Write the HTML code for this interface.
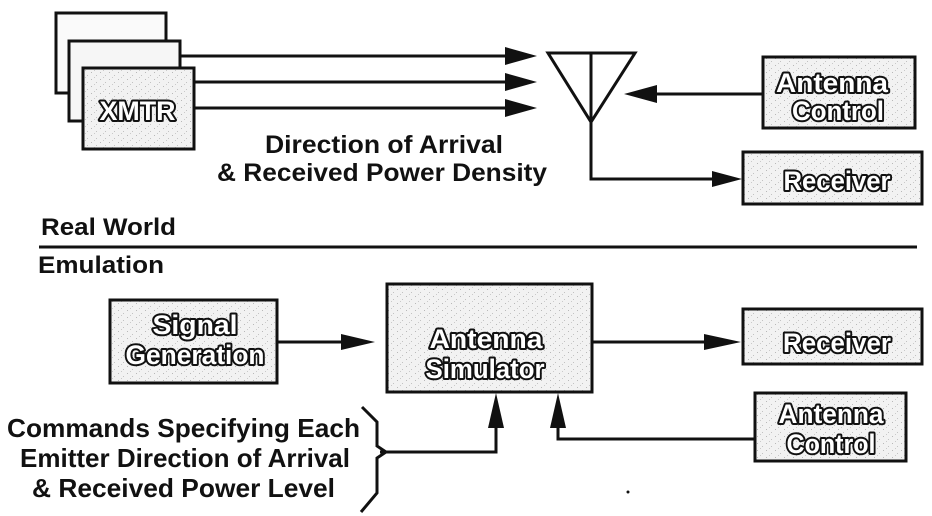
<!DOCTYPE html>
<html>
<head>
<meta charset="utf-8">
<style>
  html,body{margin:0;padding:0;background:#fff;}
  svg{display:block;}
  .t{font-family:"Liberation Sans",Arial,sans-serif;font-weight:bold;fill:#111;}
  .o{font-family:"Liberation Sans",Arial,sans-serif;font-weight:bold;fill:#fff;stroke:#111;stroke-width:4;paint-order:stroke;stroke-linejoin:round;}
</style>
</head>
<body>
<svg width="932" height="516" viewBox="0 0 932 516" xmlns="http://www.w3.org/2000/svg">
  <defs>
    <pattern id="sp" width="9" height="7" patternUnits="userSpaceOnUse">
      <rect width="9" height="7" fill="#f2f2f2"/>
      <rect x="1" y="2" width="1" height="1" fill="#b8b8b8"/>
      <rect x="6" y="5" width="1" height="1" fill="#c2c2c2"/>
      <rect x="4" y="0" width="1" height="1" fill="#cacaca"/>
    </pattern>
  </defs>
  <g stroke="#111" stroke-width="3" fill="none">
    <!-- XMTR stack -->
    <rect x="56" y="13" width="110" height="80" fill="#fafafa"/>
    <rect x="69" y="41" width="111" height="80" fill="#f6f6f6"/>
    <rect x="83" y="68" width="111" height="81" fill="url(#sp)"/>
    <!-- lines to antenna -->
    <line x1="180" y1="56" x2="508" y2="56"/>
    <line x1="194" y1="82" x2="508" y2="82"/>
    <line x1="194" y1="108" x2="508" y2="108"/>
    <!-- antenna -->
    <polygon points="548,53 635,53 591,122" stroke-linejoin="miter"/>
    <line x1="591" y1="53" x2="591" y2="122"/>
    <polyline points="591,122 591,179 714,179"/>
    <!-- antenna control top -->
    <rect x="763" y="57" width="152" height="71" fill="url(#sp)"/>
    <line x1="763" y1="94" x2="655" y2="94"/>
    <!-- receiver top -->
    <rect x="743" y="152" width="179" height="52" fill="url(#sp)"/>
    <!-- separator -->
    <line x1="39" y1="247" x2="917" y2="247"/>
    <!-- signal generation -->
    <rect x="110" y="300" width="167" height="83" fill="url(#sp)"/>
    <line x1="277" y1="342" x2="342" y2="342"/>
    <!-- antenna simulator -->
    <rect x="387" y="284" width="205" height="108" fill="url(#sp)"/>
    <line x1="592" y1="342" x2="706" y2="342"/>
    <!-- receiver bottom -->
    <rect x="743" y="309" width="179" height="55" fill="url(#sp)"/>
    <!-- antenna control bottom -->
    <rect x="755" y="393" width="151" height="68" fill="url(#sp)"/>
    <!-- vertical arrows -->
    <polyline points="380,452 496,452 496,426"/>
    <polyline points="755,439 558,439 558,426"/>
    <!-- bracket -->
    <polyline points="362,407 377,422 377,446 386,452 377,458 377,493 361,512" stroke-linejoin="miter"/>
  </g>
  <g fill="#111">
    <polygon points="505,47 537,56 505,65"/>
    <polygon points="505,73 537,82 505,91"/>
    <polygon points="505,99 537,108 505,117"/>
    <polygon points="657,85 624,94 657,103"/>
    <polygon points="712,171 742,179 712,187"/>
    <polygon points="341,334 375,342 341,350"/>
    <polygon points="704,334 741,342 704,350"/>
    <polygon points="488,428 496,393 504,428"/>
    <polygon points="550,428 558,393 566,428"/>
    <circle cx="628" cy="492" r="1.5"/>
  </g>

  <!-- outlined box labels -->
  <text class="o" x="137.5" y="120" font-size="27" text-anchor="middle" textLength="76" lengthAdjust="spacingAndGlyphs">XMTR</text>
  <text class="o" x="832" y="92" font-size="27" text-anchor="middle" textLength="112" lengthAdjust="spacingAndGlyphs">Antenna</text>
  <text class="o" x="838" y="120" font-size="27" text-anchor="middle" textLength="92" lengthAdjust="spacingAndGlyphs">Control</text>
  <text class="o" x="837" y="190" font-size="27" text-anchor="middle" textLength="107" lengthAdjust="spacingAndGlyphs">Receiver</text>
  <text class="o" x="195" y="334" font-size="27" text-anchor="middle" textLength="85" lengthAdjust="spacingAndGlyphs">Signal</text>
  <text class="o" x="195" y="364" font-size="27" text-anchor="middle" textLength="139" lengthAdjust="spacingAndGlyphs">Generation</text>
  <text class="o" x="486" y="348" font-size="27" text-anchor="middle" textLength="113" lengthAdjust="spacingAndGlyphs">Antenna</text>
  <text class="o" x="485" y="378" font-size="27" text-anchor="middle" textLength="119" lengthAdjust="spacingAndGlyphs">Simulator</text>
  <text class="o" x="837" y="352" font-size="27" text-anchor="middle" textLength="108" lengthAdjust="spacingAndGlyphs">Receiver</text>
  <text class="o" x="831" y="423" font-size="27" text-anchor="middle" textLength="105" lengthAdjust="spacingAndGlyphs">Antenna</text>
  <text class="o" x="831" y="453" font-size="27" text-anchor="middle" textLength="89" lengthAdjust="spacingAndGlyphs">Control</text>

  <!-- plain labels -->
  <text class="t" x="265" y="153" font-size="25" textLength="238" lengthAdjust="spacingAndGlyphs">Direction of Arrival</text>
  <text class="t" x="217" y="181" font-size="25" textLength="330" lengthAdjust="spacingAndGlyphs">&amp; Received Power Density</text>
  <text class="t" x="41" y="235" font-size="24" textLength="135" lengthAdjust="spacingAndGlyphs">Real World</text>
  <text class="t" x="38" y="273" font-size="24" textLength="126" lengthAdjust="spacingAndGlyphs">Emulation</text>
  <text class="t" x="7" y="437" font-size="26" textLength="353" lengthAdjust="spacingAndGlyphs">Commands Specifying Each</text>
  <text class="t" x="20" y="467" font-size="26" textLength="330" lengthAdjust="spacingAndGlyphs">Emitter Direction of Arrival</text>
  <text class="t" x="32" y="497" font-size="26" textLength="303" lengthAdjust="spacingAndGlyphs">&amp; Received Power Level</text>
</svg>
</body>
</html>
